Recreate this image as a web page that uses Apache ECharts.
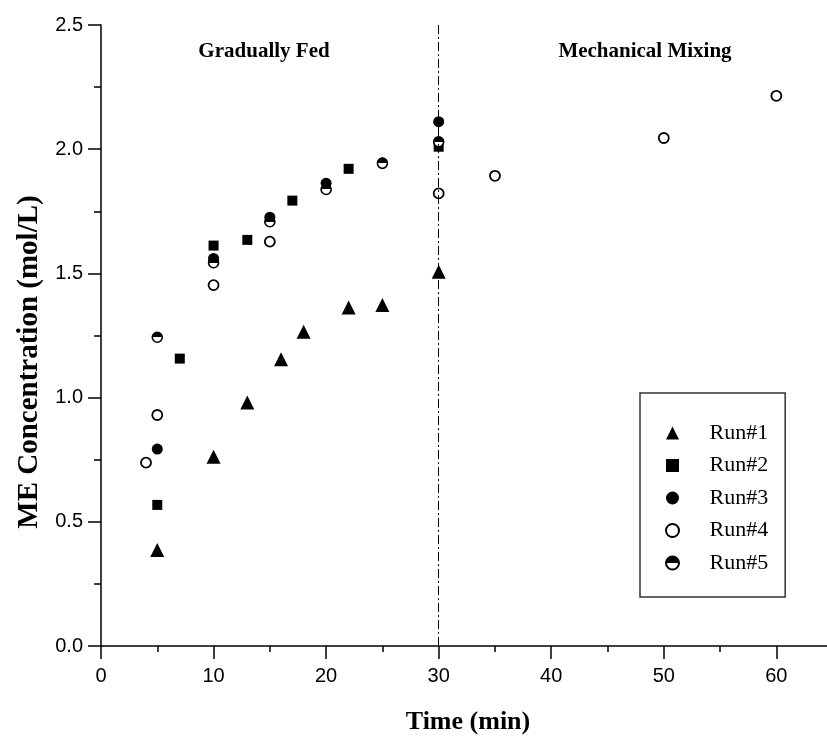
<!DOCTYPE html>
<html>
<head>
<meta charset="utf-8">
<script src="https://cdn.jsdelivr.net/npm/echarts@6/dist/echarts.min.js"></script>
<style>
html,body{margin:0;padding:0;background:#fff;}
#chart{width:827px;height:741px;}
</style>
</head>
<body>
<div id="chart"></div>
<script>
// ---- data ----
const seriesNames = ['Run#1', 'Run#2', 'Run#3', 'Run#4', 'Run#5'];
const time1 = [5, 10, 13, 16, 18, 22, 25, 30];
const run1  = [0.386, 0.762, 0.98, 1.154, 1.265, 1.363, 1.373, 1.507];
const time2 = [5, 7, 10, 13, 17, 22, 30];
const run2  = [0.568, 1.157, 1.612, 1.635, 1.793, 1.921, 2.01];
const time3 = [5, 10, 15, 20, 25, 30];
const run3  = [0.793, 1.56, 1.726, 1.863, 1.945, 2.111];
const time4 = [4, 5, 10, 15, 30, 35, 50, 60];
const run4  = [0.738, 0.93, 1.453, 1.628, 1.822, 1.893, 2.045, 2.215];
const time5 = [5, 10, 15, 20, 25, 30];
const run5  = [1.243, 1.543, 1.708, 1.838, 1.943, 2.03];
const xTicks = [0, 10, 20, 30, 40, 50, 60];
const xMinorTicks = [5, 15, 25, 35, 45, 55];
const yTicks = [0.0, 0.5, 1.0, 1.5, 2.0, 2.5];
const phaseBoundary = 30;
const phaseLabels = ['Gradually Fed', 'Mechanical Mixing'];
const xTitle = 'Time (min)';
const yTitle = 'ME Concentration (mol/L)';

function pairs(xs, ys) { return xs.map((x, i) => [x, ys[i]]); }

const halfFill = {
  type: 'linear', x: 0, y: 0, x2: 0, y2: 1,
  colorStops: [
    {offset: 0, color: '#000'}, {offset: 0.5, color: '#000'},
    {offset: 0.5, color: '#fff'}, {offset: 1, color: '#fff'}
  ]
};
const triPath = 'path://M5,0 L10,10 L0,10 Z';
const sqPath = 'path://M0,0 L10,0 L10,10 L0,10 Z';

const serifBold = '"Liberation Serif", "Times New Roman", serif';
const sansLabel = '"Liberation Sans", Arial, sans-serif';

const chart = echarts.init(document.getElementById('chart'), null, {renderer: 'canvas'});
chart.setOption({
  animation: false,
  backgroundColor: '#fff',
  grid: {left: 101, top: 25, bottom: 95, right: 0},
  xAxis: [
    {
      type: 'value', min: 0, max: 64.5, interval: 10, position: 'bottom',
      axisLine: {show: true, lineStyle: {color: '#000', width: 1.5}},
      axisTick: {show: true, length: 13, customValues: xTicks, lineStyle: {color: '#000', width: 1.5}},
      axisLabel: {color: '#000', fontSize: 20, fontFamily: sansLabel, margin: 20, customValues: xTicks},
      splitLine: {show: false}
    },
    {
      type: 'value', min: 0, max: 64.5, interval: 5, position: 'bottom', offset: 0,
      axisLine: {show: false},
      axisTick: {show: true, length: 6, customValues: xMinorTicks, lineStyle: {color: '#000', width: 1.5}},
      axisLabel: {show: false},
      splitLine: {show: false}
    }
  ],
  yAxis: {
    type: 'value', min: 0, max: 2.5, interval: 0.5,
    axisLine: {show: true, lineStyle: {color: '#000', width: 1.5}},
    axisTick: {show: true, length: 13, lineStyle: {color: '#000', width: 1.5}},
    minorTick: {show: true, splitNumber: 2, length: 7, lineStyle: {color: '#000', width: 1.5}},
    axisLabel: {
      color: '#000', fontSize: 20, fontFamily: sansLabel, margin: 18,
      formatter: v => { const t = yTicks.find(k => Math.abs(k - v) < 1e-9); return t === undefined ? '' : t.toFixed(1); }
    },
    splitLine: {show: false}
  },
  legend: {
    orient: 'vertical', left: 640, top: 393,
    padding: [29, 17, 23, 25],
    itemWidth: 64, itemHeight: 13, itemGap: 10.5,
    symbolKeepAspect: true,
    borderColor: '#333', borderWidth: 1.5,
    backgroundColor: '#fff',
    textStyle: {color: '#000', fontSize: 22, fontFamily: '"Liberation Serif", "Times New Roman", serif'},
    data: seriesNames
  },
  series: [
    {
      name: seriesNames[0], type: 'scatter', symbol: triPath, symbolSize: 14, xAxisIndex: 0,
      itemStyle: {color: '#000', opacity: 1},
      data: pairs(time1, run1),
      markLine: {
        silent: true, symbol: ['none', 'none'], label: {show: false},
        lineStyle: {color: '#000', width: 1, type: [9, 3, 2, 3]},
        data: [{xAxis: phaseBoundary}]
      }
    },
    {
      name: seriesNames[1], type: 'scatter', symbol: sqPath, symbolSize: 10, xAxisIndex: 0,
      itemStyle: {color: '#000', opacity: 1},
      data: pairs(time2, run2)
    },
    {
      name: seriesNames[2], type: 'scatter', symbol: 'circle', symbolSize: 11, xAxisIndex: 0,
      itemStyle: {color: '#000', opacity: 1},
      data: pairs(time3, run3)
    },
    {
      name: seriesNames[3], type: 'scatter', symbol: 'circle', symbolSize: 10, xAxisIndex: 0,
      itemStyle: {color: '#fff', borderColor: '#000', borderWidth: 1.8, opacity: 1},
      data: pairs(time4, run4)
    },
    {
      name: seriesNames[4], type: 'scatter', symbol: 'circle', symbolSize: 10, xAxisIndex: 0,
      itemStyle: {color: halfFill, borderColor: '#000', borderWidth: 1.6, opacity: 1},
      data: pairs(time5, run5)
    }
  ],
  graphic: [
    {type: 'text', x: 264, y: 52, style: {text: phaseLabels[0], align: 'center', verticalAlign: 'middle', font: 'bold 21px ' + serifBold, fill: '#000'}},
    {type: 'text', x: 645, y: 52, style: {text: phaseLabels[1], align: 'center', verticalAlign: 'middle', font: 'bold 21px ' + serifBold, fill: '#000'}},
    {type: 'text', x: 468, y: 722, style: {text: xTitle, align: 'center', verticalAlign: 'middle', font: 'bold 26px ' + serifBold, fill: '#000'}},
    {type: 'text', x: 30, y: 362, rotation: Math.PI / 2, style: {text: yTitle, align: 'center', verticalAlign: 'middle', font: 'bold 29px ' + serifBold, fill: '#000'}}
  ]
});
</script>
</body>
</html>
